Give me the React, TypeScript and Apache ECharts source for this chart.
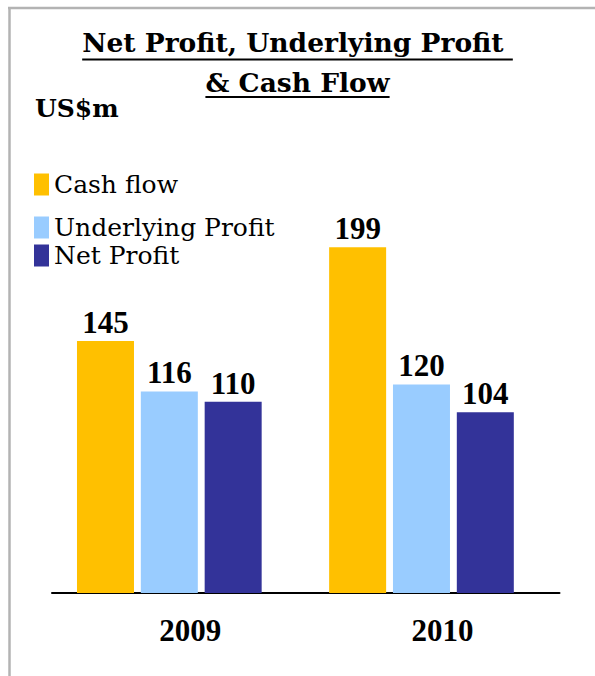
import React, { useEffect, useRef } from "react";
import * as echarts from "echarts";

const categories = ["2009", "2010"];
const seriesNames = ["Cash flow", "Underlying Profit", "Net Profit"];
const cashFlow = [145, 199];
const underlyingProfit = [116, 120];
const netProfit = [110, 104];
const colors = ["#FFC000", "#99CCFF", "#333399"];
const titleLine1 = "Net Profit, Underlying Profit ";
const titleLine2 = "& Cash Flow";
const unitLabel = "US$m";

const WORD_FONT = '"DejaVu Serif", serif';
const NUM_FONT = '"Liberation Serif", serif';

function measure(text: string, font: string): number {
  const c = document.createElement("canvas");
  const ctx = c.getContext("2d");
  if (!ctx) return text.length * 14;
  ctx.font = font;
  return ctx.measureText(text).width;
}

export default function App() {
  const ref = useRef<HTMLDivElement>(null);
  useEffect(() => {
    if (!ref.current) return;
    const chart = echarts.init(ref.current, null, { renderer: "svg" });
    const W = 595;
    const cx = W / 2;
    const titleSize = 26.5;
    const w1 = measure(titleLine1, `bold ${titleSize}px ${WORD_FONT}`);
    const w2 = measure(titleLine2, `bold ${titleSize}px ${WORD_FONT}`);
    const values = [cashFlow, underlyingProfit, netProfit];
    const legendTops = [172, 215, 243];

    const option: any = {
      animation: false,
      backgroundColor: "#ffffff",
      title: [
        {
          text: titleLine1,
          left: "center",
          top: 29,
          padding: 0,
          textStyle: { fontFamily: WORD_FONT, fontWeight: "bold", fontSize: titleSize, color: "#000" },
        },
        {
          text: titleLine2,
          left: "center",
          top: 68.5,
          padding: 0,
          textStyle: { fontFamily: WORD_FONT, fontWeight: "bold", fontSize: titleSize, color: "#000" },
        },
        {
          text: unitLabel,
          left: 35,
          top: 96,
          padding: 0,
          textStyle: { fontFamily: WORD_FONT, fontWeight: "bold", fontSize: 25, color: "#000" },
        },
      ],
      legend: seriesNames.map((n, i) => ({
        data: [n],
        left: 34,
        top: legendTops[i],
        padding: 0,
        icon: "rect",
        itemWidth: 15,
        itemHeight: 22,
        itemGap: 0,
        selectedMode: false,
        textStyle: { fontFamily: WORD_FONT, fontSize: 25, color: "#000", lineHeight: 22, padding: [1, 0, 0, 0] },
      })),
      grid: [
        { left: 43.25, right: 47.45, top: 158.5, bottom: 83 },
        { left: 52, right: 35.5, top: 158.5, bottom: 83 },
      ],
      xAxis: [
        {
          type: "category",
          gridIndex: 0,
          data: categories,
          axisLine: { show: false },
          axisTick: { show: false },
          axisLabel: {
            margin: 22,
            padding: [0, 0, 0, 42],
            fontFamily: NUM_FONT,
            fontWeight: "bold",
            fontSize: 31,
            color: "#000",
          },
        },
        {
          type: "category",
          gridIndex: 1,
          data: categories,
          axisLine: { show: true, lineStyle: { color: "#000", width: 2 } },
          axisTick: { show: false },
          axisLabel: { show: false },
        },
      ],
      yAxis: [
        { type: "value", gridIndex: 0, min: 0, max: 250, show: false, splitLine: { show: false } },
        { type: "value", gridIndex: 1, min: 0, max: 250, show: false, splitLine: { show: false } },
      ],
      series: seriesNames.map((n, i) => ({
        name: n,
        type: "bar",
        xAxisIndex: 0,
        yAxisIndex: 0,
        data: values[i],
        barWidth: 57,
        barGap: "12%",
        itemStyle: { color: colors[i] },
        label: {
          show: true,
          position: "top",
          distance: 3,
          fontFamily: NUM_FONT,
          fontWeight: "bold",
          fontSize: 31,
          color: "#000",
        },
      })),
      graphic: [
        { type: "line", shape: { x1: 8, y1: 8, x2: 595, y2: 8 }, style: { stroke: "#b3b3b3", lineWidth: 2.5 } },
        { type: "line", shape: { x1: 9.5, y1: 7, x2: 9.5, y2: 676 }, style: { stroke: "#b3b3b3", lineWidth: 2.5 } },
        { type: "line", shape: { x1: cx - w1 / 2, y1: 59.5, x2: cx + w1 / 2, y2: 59.5 }, style: { stroke: "#000", lineWidth: 2 } },
        { type: "line", shape: { x1: cx - w2 / 2, y1: 97, x2: cx + w2 / 2, y2: 97 }, style: { stroke: "#000", lineWidth: 2 } },
      ],
    };
    chart.setOption(option);
    return () => chart.dispose();
  }, []);
  return (
    <div
      ref={ref}
      style={{ position: "absolute", left: 0, top: 0, width: 595, height: 676 }}
    />
  );
}
